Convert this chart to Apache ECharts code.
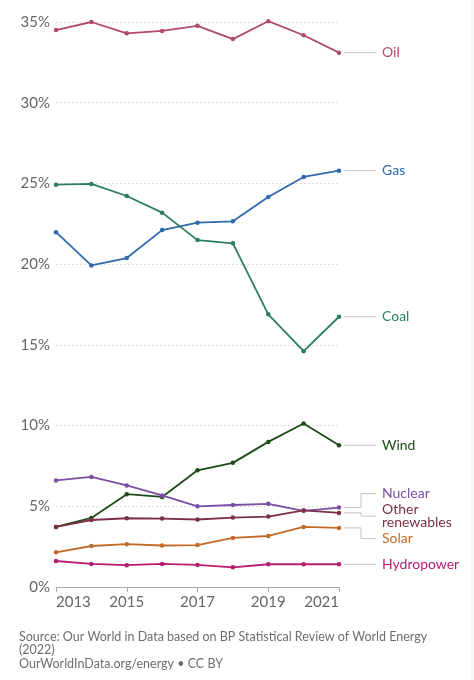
<!DOCTYPE html>
<html>
<head>
<meta charset="utf-8">
<script src="https://cdn.jsdelivr.net/npm/echarts@6/dist/echarts.min.js"></script>
<style>
  html, body { margin: 0; padding: 0; background: #fff; }
  #main { width: 474px; height: 680px; }
</style>
</head>
<body>
<div id="main"></div>
<script>
// 年份
const years = ['2013', '2014', '2015', '2016', '2017', '2018', '2019', '2020', '2021']
// 各能源占比 (%)
const oil = [34.5, 35.0, 34.3, 34.45, 34.76, 33.94, 35.05, 34.18, 33.1]
const gas = [21.98, 19.92, 20.38, 22.11, 22.57, 22.65, 24.16, 25.4, 25.79]
const coal = [24.92, 24.97, 24.22, 23.19, 21.49, 21.29, 16.89, 14.61, 16.74]
const wind = [3.72, 4.28, 5.75, 5.58, 7.23, 7.69, 8.99, 10.13, 8.78]
const nuclear = [6.6, 6.82, 6.29, 5.67, 5.0, 5.08, 5.15, 4.71, 4.92]
const otherRenewables = [3.72, 4.15, 4.26, 4.24, 4.18, 4.3, 4.36, 4.75, 4.59]
const solar = [2.15, 2.54, 2.65, 2.57, 2.6, 3.04, 3.16, 3.72, 3.66]
const hydropower = [1.61, 1.43, 1.35, 1.43, 1.37, 1.22, 1.41, 1.41, 1.41]
const yTicks = [0, 5, 10, 15, 20, 25, 30, 35]

const seriesDefs = [
    { name: 'Oil', label: 'Oil', data: oil, color: '#b24a68' },
    { name: 'Gas', label: 'Gas', data: gas, color: '#2f6aad' },
    { name: 'Coal', label: 'Coal', data: coal, color: '#2c7d61' },
    { name: 'Wind', label: 'Wind', data: wind, color: '#1f4a1a' },
    { name: 'Nuclear', label: 'Nuclear', data: nuclear, color: '#7a4ea6' },
    { name: 'Other renewables', label: 'Other\nrenewables', data: otherRenewables, color: '#7d2f43' },
    { name: 'Solar', label: 'Solar', data: solar, color: '#c26a28' },
    { name: 'Hydropower', label: 'Hydropower', data: hydropower, color: '#b81c6f' }
]

const font = 'Lato, "Noto Sans", sans-serif'
const chart = echarts.init(document.getElementById('main'))

const option = {
    animation: false,
    textStyle: { fontFamily: font },
    title: {
        text: 'Source: Our World in Data based on BP Statistical Review of World Energy\n(2022)\nOurWorldInData.org/energy • CC BY',
        left: 19,
        top: 630,
        padding: 0,
        textStyle: {
            fontFamily: font,
            fontSize: 12.5,
            fontWeight: 'normal',
            color: '#6e6e6e',
            lineHeight: 13.5
        }
    },
    grid: {
        left: 56,
        right: 135,
        top: 22,
        bottom: 93
    },
    xAxis: {
        type: 'category',
        data: years,
        boundaryGap: false,
        axisLine: { lineStyle: { color: '#a8a8a8', width: 1 } },
        axisTick: {
            interval: 1,
            length: 5,
            lineStyle: { color: '#a8a8a8' }
        },
        axisLabel: {
            interval: 1,
            color: '#666',
            fontSize: 15,
            fontFamily: font,
            margin: 8,
            alignMinLabel: 'left',
            alignMaxLabel: 'right'
        },
        splitLine: { show: false }
    },
    yAxis: {
        type: 'value',
        min: yTicks[0],
        max: yTicks[yTicks.length - 1],
        interval: 5,
        axisLine: { show: false },
        axisTick: { show: false },
        axisLabel: {
            formatter: '{value}%',
            color: '#666',
            fontSize: 15,
            fontFamily: font,
            margin: 6
        },
        splitLine: {
            lineStyle: { color: '#dcdcdc', type: [2, 2], width: 1 }
        }
    },
    series: seriesDefs.map(s => ({
        name: s.name,
        type: 'line',
        data: s.data,
        clip: false,
        symbol: 'circle',
        symbolSize: 4.5,
        itemStyle: { color: s.color },
        lineStyle: { color: s.color, width: 1.8 },
        z: 3
    }))
}
chart.setOption(option)

// 右侧标签：避免重叠后画出连接线
function drawLabels () {
    const last = years.length - 1
    const items = seriesDefs.map(s => {
        const p = chart.convertToPixel({ seriesName: s.name }, [last, s.data[last]])
        const lines = s.label.split('\n').length
        return { def: s, px: p[0], py: p[1], h: lines * 13 + 2 }
    })
    items.sort((a, b) => a.py - b.py)

    // 简单的分组推开
    let clusters = items.map(it => ({ items: [it], h: it.h, want: it.py }))
    let merged = true
    const place = c => {
        c.top = c.want - c.h / 2
    }
    clusters.forEach(place)
    while (merged) {
        merged = false
        for (let i = 1; i < clusters.length; i++) {
            const a = clusters[i - 1]
            const b = clusters[i]
            if (a.top + a.h + 1 > b.top) {
                const all = a.items.concat(b.items)
                const h = all.reduce((t, it) => t + it.h, 0) + all.length - 1
                const want = all.reduce((t, it) => t + it.py, 0) / all.length
                const c = { items: all, h, want }
                place(c)
                clusters.splice(i - 1, 2, c)
                merged = true
                break
            }
        }
    }

    const graphics = []
    clusters.forEach(c => {
        let y = c.top
        c.items.forEach(it => {
            it.ly = y + it.h / 2
            y += it.h + 1
        })
    })

    items.forEach(it => {
        const x0 = it.px + 5
        const x1 = it.px + 37
        const xm = it.px + 22
        let points
        if (Math.abs(it.ly - it.py) < 1.5) {
            points = [[x0, it.py], [x1, it.py]]
        } else {
            points = [[x0, it.py], [xm, it.py], [xm, it.ly], [x1, it.ly]]
        }
        graphics.push({
            type: 'polyline',
            shape: { points },
            style: { stroke: '#c4c4c4', lineWidth: 1, fill: null },
            silent: true
        })
        graphics.push({
            type: 'text',
            x: x1 + 6,
            y: it.ly,
            style: {
                text: it.def.label,
                fill: it.def.color,
                font: '14px ' + font,
                lineHeight: 13,
                verticalAlign: 'middle',
                align: 'left'
            },
            silent: true
        })
    })

    // 右边的细竖线
    graphics.push({
        type: 'line',
        shape: { x1: 472, y1: 0, x2: 472, y2: 680 },
        style: { stroke: '#e6e6e6', lineWidth: 1 },
        silent: true
    })

    chart.setOption({ graphic: graphics })
}
drawLabels()
</script>
</body>
</html>
